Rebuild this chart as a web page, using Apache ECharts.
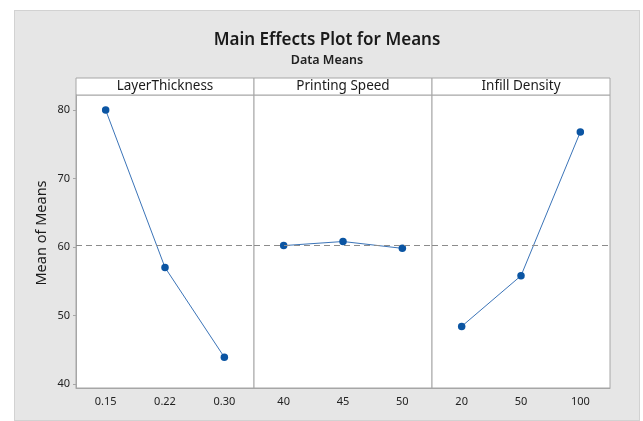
<!DOCTYPE html>
<html>
<head>
<meta charset="utf-8">
<script src="https://cdn.jsdelivr.net/npm/echarts@6/dist/echarts.min.js"></script>
<style>
  html, body { margin: 0; padding: 0; background: #fff; }
  #chart {
    position: absolute; left: 14px; top: 10px;
    width: 626px; height: 411px;
    background: #e6e6e6;
    box-shadow: inset 0 0 0 1px #d2d2d2;
  }
</style>
</head>
<body>
<div id="chart"></div>
<script>
// factors and their levels
const factorNames = ['LayerThickness', 'Printing Speed', 'Infill Density'];
const layerLevels = ['0.15', '0.22', '0.30'];
const speedLevels = ['40', '45', '50'];
const infillLevels = ['20', '50', '100'];

// means
const layerMeans = [80.0, 57.0, 43.9];
const speedMeans = [60.2, 60.8, 59.8];
const infillMeans = [48.4, 55.8, 76.8];

const yTicks = [40, 50, 60, 70, 80];
const yMin = 39.4;
const yMax = 82.2;

const levels = [layerLevels, speedLevels, infillLevels];
const means = [layerMeans, speedMeans, infillMeans];

// grand mean (dashed reference line)
const all = [].concat(layerMeans, speedMeans, infillMeans);
const grandMean = all.reduce((a, b) => a + b, 0) / all.length;

// layout
const plotLeft = 62;
const panelW = 178;
const stripTop = 68;
const stripH = 17;
const plotBottom = 33;

const chart = echarts.init(document.getElementById('chart'));

const grids = [], xAxes = [], yAxes = [], series = [], graphics = [];
factorNames.forEach((name, i) => {
    grids.push({
        left: plotLeft + i * panelW,
        width: panelW,
        top: stripTop + stripH,
        bottom: plotBottom,
        show: true,
        backgroundColor: '#fff',
        borderColor: '#a6a6a6',
        borderWidth: 1
    });
    xAxes.push({
        type: 'category',
        gridIndex: i,
        data: levels[i],
        boundaryGap: true,
        axisLine: { lineStyle: { color: '#a6a6a6' } },
        axisTick: { alignWithLabel: true, length: 3, lineStyle: { color: '#a6a6a6' } },
        axisLabel: { color: '#222', fontSize: 11, margin: 8, fontFamily: 'Noto Sans' },
        splitLine: { show: false }
    });
    yAxes.push({
        type: 'value',
        gridIndex: i,
        min: yMin,
        max: yMax,
        show: i === 0,
        axisLine: { show: true, lineStyle: { color: '#a6a6a6' } },
        axisTick: { show: true, length: 3, customValues: yTicks, lineStyle: { color: '#a6a6a6' } },
        axisLabel: { color: '#222', fontSize: 11, margin: 6, customValues: yTicks, fontFamily: 'Noto Sans' },
        splitLine: { show: false }
    });
    series.push({
        type: 'line',
        xAxisIndex: i,
        yAxisIndex: i,
        data: means[i],
        symbol: 'circle',
        symbolSize: 7.5,
        itemStyle: { color: '#0b55a3' },
        lineStyle: { color: '#3b74b8', width: 1 },
        emphasis: { disabled: true },
        markLine: {
            silent: true,
            symbol: 'none',
            label: { show: false },
            lineStyle: { color: '#8c8c8c', type: [6, 4], width: 1 },
            data: [{ yAxis: grandMean }]
        }
    });
    // strip header
    graphics.push({
        type: 'rect',
        shape: { x: plotLeft + i * panelW, y: stripTop, width: panelW, height: stripH },
        style: { fill: '#fff', stroke: '#a6a6a6', lineWidth: 1 }
    });
    graphics.push({
        type: 'text',
        x: plotLeft + i * panelW + panelW / 2,
        y: stripTop + stripH / 2,
        style: {
            text: name, fill: '#1a1a1a', fontSize: 13.5, fontFamily: 'Noto Sans',
            align: 'center', verticalAlign: 'middle'
        }
    });
});

// y axis title, centred on panels incl. strips
graphics.push({
    type: 'text',
    x: 28,
    y: (stripTop + 411 - plotBottom) / 2,
    rotation: Math.PI / 2,
    style: {
        text: 'Mean of Means', fill: '#1a1a1a', fontSize: 14.5, fontFamily: 'Noto Sans',
        align: 'center', verticalAlign: 'middle'
    }
});

chart.setOption({
    animation: false,
    title: {
        text: 'Main Effects Plot for Means',
        subtext: 'Data Means',
        left: 'center',
        top: 17,
        itemGap: 5,
        textStyle: { fontSize: 17, fontWeight: 600, color: '#1a1a1a', fontFamily: 'Noto Sans' },
        subtextStyle: { fontSize: 12.5, fontWeight: 600, color: '#222', fontFamily: 'Noto Sans' }
    },
    grid: grids,
    xAxis: xAxes,
    yAxis: yAxes,
    series: series,
    graphic: graphics
});
window.addEventListener('resize', () => chart.resize());
</script>
</body>
</html>
